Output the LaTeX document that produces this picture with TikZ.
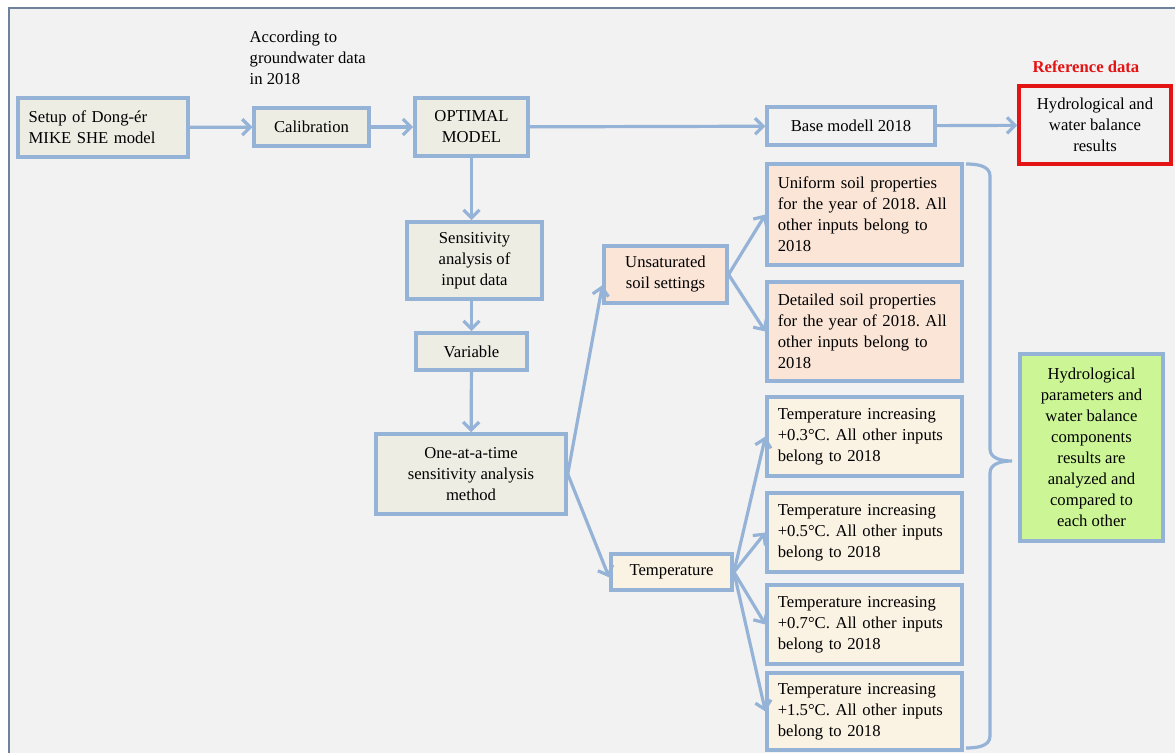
\documentclass[tikz,border=0pt]{standalone}
\usepackage{fontspec}
\setmainfont{Liberation Serif}
\usetikzlibrary{arrows.meta,positioning}
\definecolor{bgray}{RGB}{242,242,242}
\definecolor{lgray}{RGB}{237,237,228}
\definecolor{lblue}{RGB}{149,179,215}
\definecolor{peach}{RGB}{250,229,215}
\definecolor{cream}{RGB}{250,242,227}
\definecolor{lgreen}{RGB}{204,246,150}
\definecolor{refred}{RGB}{228,20,20}
\definecolor{frame}{RGB}{110,130,155}
\frenchspacing

\begin{document}
\begin{tikzpicture}[
			x=0.75pt,y=-0.75pt,
			font=\fontsize{12.5}{15.75}\selectfont,
			>={Straight Barb[length=6pt,width=12pt]},
			bloc/.style={
				draw=lblue,
				line width=2.6pt,
				fill=lgray,
				rectangle,
				inner sep=0pt,
				align=center,
			},
			lbloc/.style={
				align=left,
				inner xsep=8pt,
				text width=130pt,
			},
			refbox/.style={
				bloc,
				draw=refred,
				line width=2.6pt,
				fill=bgray,
			},
			reflabel/.style={
				text=refred,
				font=\fontsize{12.5}{15.75}\selectfont\bfseries,
			},
			flow/.style={
				draw=lblue,
				line width=2.4pt,
			},
		]
		\useasboundingbox (0,0) rectangle (1175,753);
		\fill[white] (0,0) rectangle (1175,753);
		\fill[bgray] (9,8) rectangle (1175,753);
		\draw[frame,line width=1.4pt] (9,753) -- (9,8) -- (1175,8);

		% top row
		\node[bloc,lbloc,text width=111.5pt,minimum height=44pt] (setup) at (103,127.5) {Setup of Dong-ér\\MIKE SHE model};
		\node[bloc,minimum width=86pt,minimum height=28.5pt] (calib) at (311.5,127) {Calibration};
		\node[anchor=west,align=left] (gwnote) at (245,58) {According to\\groundwater data\\in 2018};
		\node[bloc,minimum width=85pt,minimum height=43.5pt] (optim) at (471.5,127) {OPTIMAL\\MODEL};
		\node[bloc,fill=bgray,minimum width=126pt,minimum height=28.5pt] (base) at (851,126) {Base modell 2018};
		\node[refbox,minimum width=114pt,minimum height=58.5pt] (hydro) at (1095,125) {Hydrological and\\water balance\\results};
		\node[reflabel] (refdata) at (1086,67) {Reference data};

		% sensitivity column
		\node[bloc,minimum width=101pt,minimum height=58pt] (sens) at (474.5,260.5) {Sensitivity\\analysis of\\input data};
		\node[bloc,minimum width=83pt,minimum height=28pt] (var) at (471.5,351.5) {Variable};
		\node[bloc,minimum width=142.5pt,minimum height=60pt] (oat) at (471,474) {One-at-a-time\\sensitivity analysis\\method};

		% soil
		\node[bloc,fill=peach,minimum width=92pt,minimum height=43pt] (unsat) at (665.5,274.5) {Unsaturated\\soil settings};
		\node[bloc,fill=peach,lbloc,minimum height=76pt] (unif) at (864.5,214.5) {Uniform soil properties\\for the year of 2018. All\\other inputs belong to\\2018};
		\node[bloc,fill=peach,lbloc,minimum height=74pt] (detail) at (864.5,331.5) {Detailed soil properties\\for the year of 2018. All\\other inputs belong to\\2018};

		% temperature
		\node[bloc,fill=cream,minimum width=91pt,minimum height=27pt] (temp) at (671.5,572) {Temperature};
		\node[bloc,fill=cream,lbloc,minimum height=59pt] (t03) at (864.5,436.5) {Temperature increasing\\+0.3°C. All other inputs\\belong to 2018};
		\node[bloc,fill=cream,lbloc,minimum height=59pt] (t05) at (864.5,532.5) {Temperature increasing\\+0.5°C. All other inputs\\belong to 2018};
		\node[bloc,fill=cream,lbloc,minimum height=59pt] (t07) at (864.5,624.5) {Temperature increasing\\+0.7°C. All other inputs\\belong to 2018};
		\node[bloc,fill=cream,lbloc,minimum height=58pt] (t15) at (864.5,711.5) {Temperature increasing\\+1.5°C. All other inputs\\belong to 2018};

		\node[bloc,fill=lgreen,minimum width=107pt,minimum height=140pt] (result) at (1091.5,447.5) {Hydrological\\parameters and\\water balance\\components\\results are\\analyzed and\\compared to\\each other};

		% brace
		\coordinate (brtop) at (966,164);
		\coordinate (brtip) at (1012,461);
		\coordinate (brbot) at (966,748);
		\draw[flow] (brtop) to[out=0,in=90] (990,176) -- (990,449) to[out=-90,in=180] (brtip)
			to[out=180,in=90] (990,473) -- (990,736) to[out=-90,in=0] (brbot);

		\draw[flow] (setup) edge[->] (calib);
		\draw[flow] (calib) edge[->] (optim);
		\draw[flow] (optim) edge[->] (base);
		\draw[flow] (base) edge[->] (hydro);

		\draw[flow] (optim.south) edge[->] (optim.south |- sens.north);
		\draw[flow] (var.north |- sens.south) edge[->] (var.north);
		\draw[flow] (var) edge[->] (oat);

		\draw[flow] (oat.east) edge[->] ([yshift=-8pt]unsat.west);
		\draw[flow] (oat.east) edge[->] ([yshift=-4pt]temp.west);

		\draw[flow] (unsat.east) edge[->] (unif.west);
		\draw[flow] (unsat.east) edge[->] (detail.west);

		\draw[flow] (temp.east) edge[->] (t03.west);
		\draw[flow] (temp.east) edge[->] (t05.west);
		\draw[flow] (temp.east) edge[->] (t07.west);
		\draw[flow] (temp.east) edge[->] (t15.west);

	\end{tikzpicture}
\end{document}
